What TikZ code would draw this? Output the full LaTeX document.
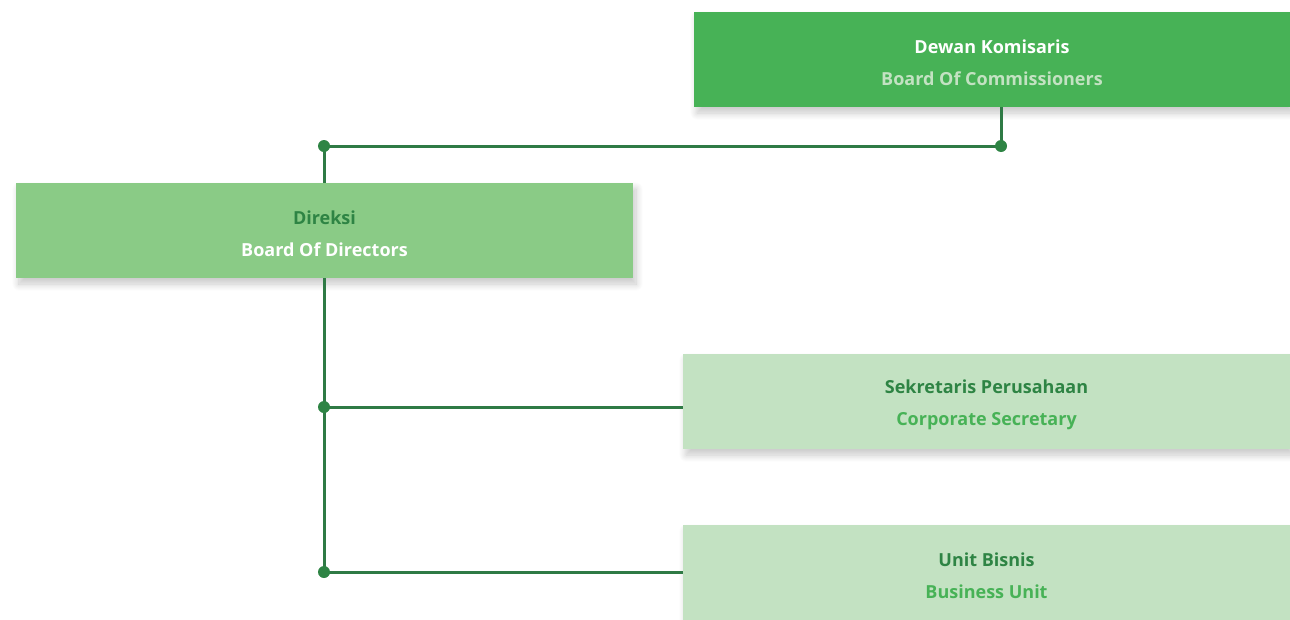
\documentclass[tikz,border=0pt]{standalone}
\usepackage{fontspec}
\setmainfont{Open Sans}
\usepackage{xcolor}
\usepackage{tikz}
\usetikzlibrary{shadows.blur, calc}
\definecolor{kgreen}{HTML}{47B256}
\definecolor{mgreen}{HTML}{8ACB86}
\definecolor{lgreen}{HTML}{C3E2C2}
\definecolor{dgreen}{HTML}{2E8444}
\definecolor{lnline}{HTML}{2F7A45}
\newcommand{\topstrut}{\rule{0pt}{20pt}}

\begin{document}
\begin{tikzpicture}[x=1pt, y=-1pt, semithick,
                    font=\fontsize{18}{32}\selectfont\bfseries]
\tikzstyle{unit}=[shape=rectangle, minimum height=95pt, align=center,
                    inner sep=0pt,
                    blur shadow={shadow xshift=3pt, shadow yshift=-6pt,
                    shadow opacity=22, shadow blur radius=7pt,
                    shadow blur steps=12}]
\tikzstyle{link}=[draw=lnline, line width=3pt]
\tikzstyle{dot}=[circle, fill=dgreen, inner sep=0pt, minimum size=12pt]
  \useasboundingbox (0,0) rectangle (1290,619);
  \node[unit, fill=kgreen, minimum width=596pt] (DK)  at (992,59.5)
       {\topstrut\textcolor{white}{Dewan Komisaris}\\\textcolor{lgreen}{Board Of Commissioners}};
  \node[unit, fill=mgreen, minimum width=617pt] (Dir) at (324.5,230.5)
       {\topstrut\textcolor{dgreen}{Direksi}\\\textcolor{white}{Board Of Directors}};
  \node[unit, fill=lgreen, minimum width=607pt] (Sek) at (986.5,401.5)
       {\topstrut\textcolor{dgreen}{Sekretaris Perusahaan}\\\textcolor{kgreen}{Corporate Secretary}};
  \node[unit, fill=lgreen, minimum width=607pt] (Bis) at (986.5,572.5)
       {\topstrut\textcolor{dgreen}{Unit Bisnis}\\\textcolor{kgreen}{Business Unit}};
  % junctions
  \coordinate (jDK)  at (1001,146);
  \coordinate (jDir) at (324,146);
  \coordinate (jSek) at (324,407);
  \coordinate (jBis) at (324,572);
  \path[link] (jDK |- DK.south) -- (jDK) -- (jDir) -- (jDir |- Dir.north);
  \path[link] (jDir |- Dir.south) -- (jBis);
  \path[link] (jSek) -- (jSek -| Sek.west);
  \path[link] (jBis) -- (jBis -| Bis.west);
  \foreach \j in {jDK, jDir, jSek, jBis}
    \node[dot] at (\j) {};
\end{tikzpicture}
\end{document}
